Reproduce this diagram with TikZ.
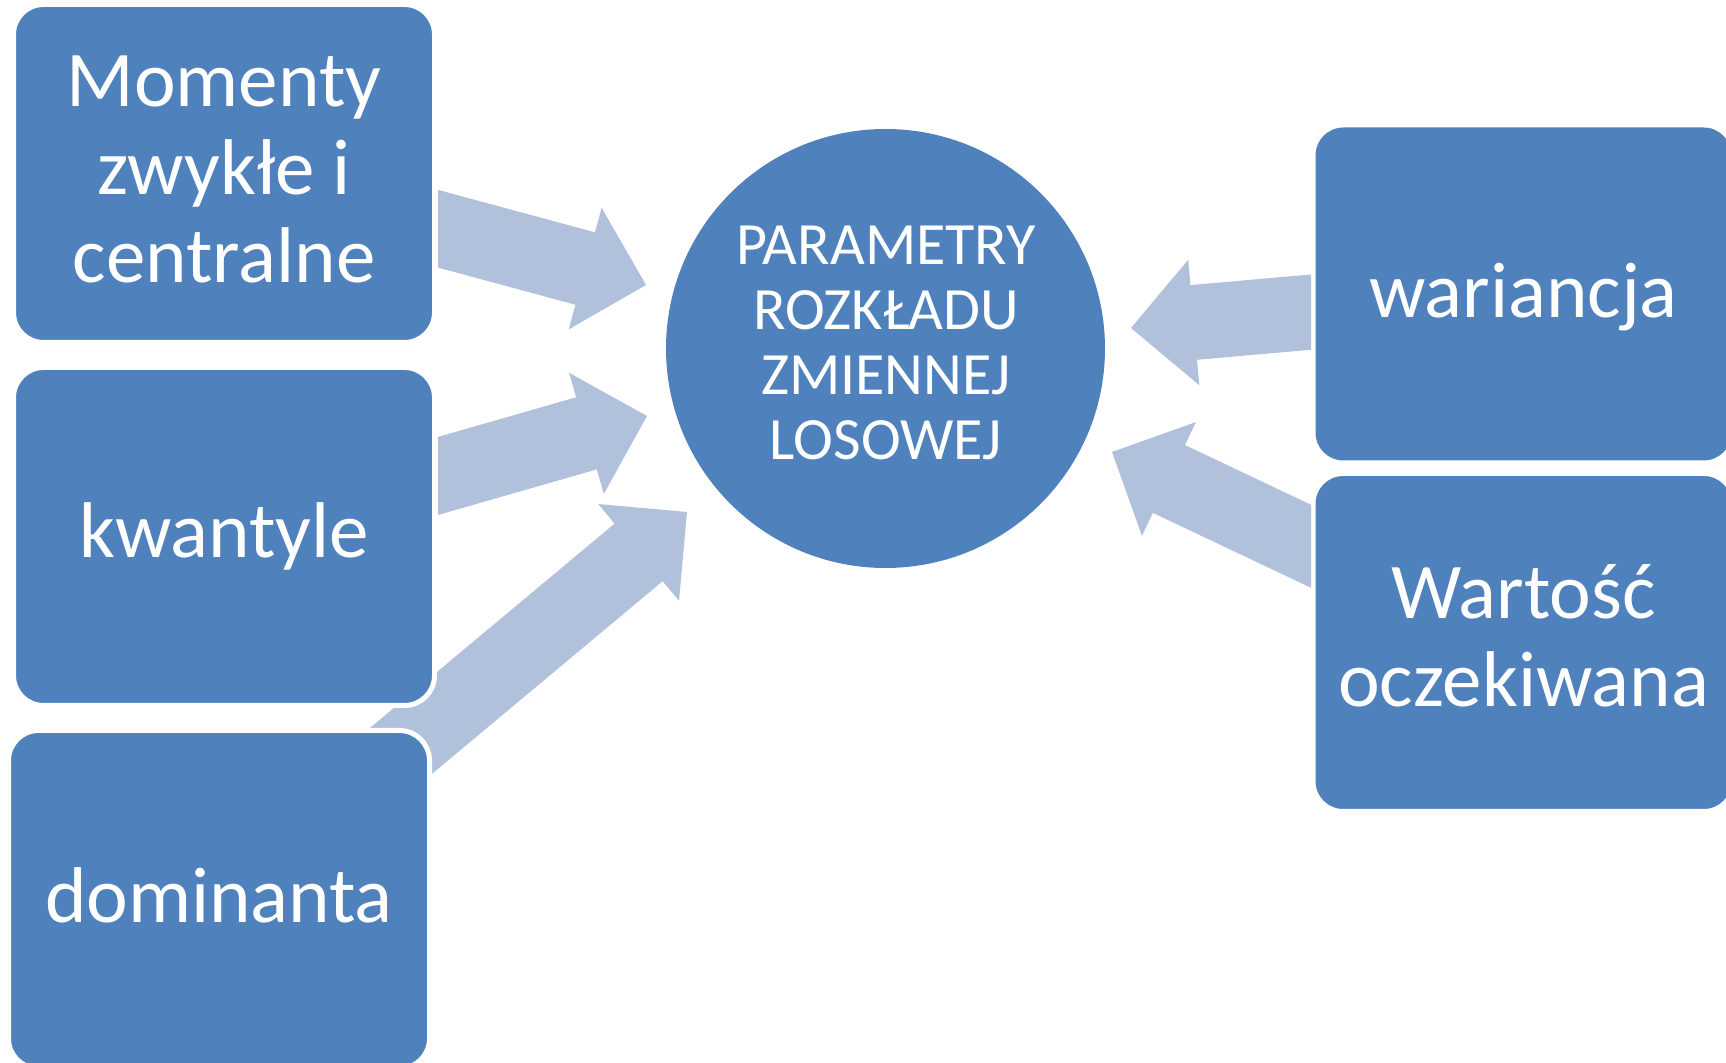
\documentclass[tikz,border=0pt]{standalone}
\usepackage{fontspec}
\setmainfont{Carlito}
\usetikzlibrary{calc}
\definecolor{boxblue}{RGB}{79,129,189}
\definecolor{arrowblue}{RGB}{177,193,220}
\tikzset{
  box/.style={rectangle, rounded corners=15pt, fill=boxblue, draw=white,
    line width=2.5pt, inner sep=0pt, minimum width=210.5pt, minimum height=169pt},
  hub/.style={circle, fill=boxblue, inner sep=0pt, minimum size=219.5pt},
  lbl/.style={text=white, inner sep=0pt, anchor=base,
    font=\fontsize{39.5}{44}\selectfont},
  hublbl/.style={text=white, inner sep=0pt, anchor=base,
    font=\fontsize{30}{32.65}\selectfont},
  arrowfill/.style={fill=arrowblue},
}
\newcommand\blockarrow[2]{%
  \coordinate (ba-h) at ($(#2)!31.5pt!(#1)$);
  \fill[arrowfill] ($(#1)!18.75pt!90:(#2)$) -- ($(ba-h)!18.75pt!90:(#2)$)
    -- ($(ba-h)!31.5pt!90:(#2)$) -- (#2) -- ($(ba-h)!31.5pt!-90:(#2)$)
    -- ($(ba-h)!18.75pt!-90:(#2)$) -- ($(#1)!18.75pt!-90:(#2)$) -- cycle;
}
\begin{document}
\begin{tikzpicture}[x=0.5pt, y=-0.5pt]
\useasboundingbox (0,0) rectangle (1726,1063);
% arrow tails and tips
\coordinate (a1-tail) at (411.3,221.5);
\coordinate (a1-tip)  at (646,285);
\coordinate (a2-tail) at (413,483.1);
\coordinate (a2-tip)  at (647,416);
\coordinate (a3-tail) at (377.5,770.5);
\coordinate (a3-tip)  at (687,512);
\coordinate (a4-tail) at (1342.9,309.3);
\coordinate (a4-tip)  at (1131,328);
\coordinate (a5-tail) at (1331.7,556.1);
\coordinate (a5-tip)  at (1112,452);

% arrow from dominanta (passes behind boxes)
\blockarrow{a3-tail}{a3-tip}

% boxes
\node[box] (mom) at (224,173.5) {};
\node[box] (kwa) at (224,536.5) {};
\node[box] (dom) at (219,899.5) {};
\node[box] (war) at (1523.5,294) {};
\node[box] (ocz) at (1523.5,642.5) {};
\node[hub] (hub) at (885.5,348.5) {};

% clipped arrows
\begin{scope}
  \clip (438,0) rectangle (1000,1063);
  \blockarrow{a1-tail}{a1-tip}
  \blockarrow{a2-tail}{a2-tip}
\end{scope}
\begin{scope}
  \clip (800,0) rectangle (1311,1063);
  \blockarrow{a4-tail}{a4-tip}
  \blockarrow{a5-tail}{a5-tip}
\end{scope}

% labels
\node[lbl] (mom-t) at (224,283) {\begin{tabular}[b]{@{}c@{}}Momenty\\zwykłe i\\centralne\end{tabular}};
\node[lbl] (kwa-t) at (224,558) {kwantyle};
\node[lbl] (dom-t) at (219,922) {dominanta};
\node[lbl] (war-t) at (1523.5,318) {wariancja};
\node[lbl] (ocz-t) at (1523.5,707) {\begin{tabular}[b]{@{}c@{}}Wartość\\oczekiwana\end{tabular}};
\node[hublbl] (hub-t) at (886,460) {\begin{tabular}[b]{@{}c@{}}PARAMETRY\\ROZKŁADU\\ZMIENNEJ\\LOSOWEJ\end{tabular}};
\end{tikzpicture}
\end{document}
